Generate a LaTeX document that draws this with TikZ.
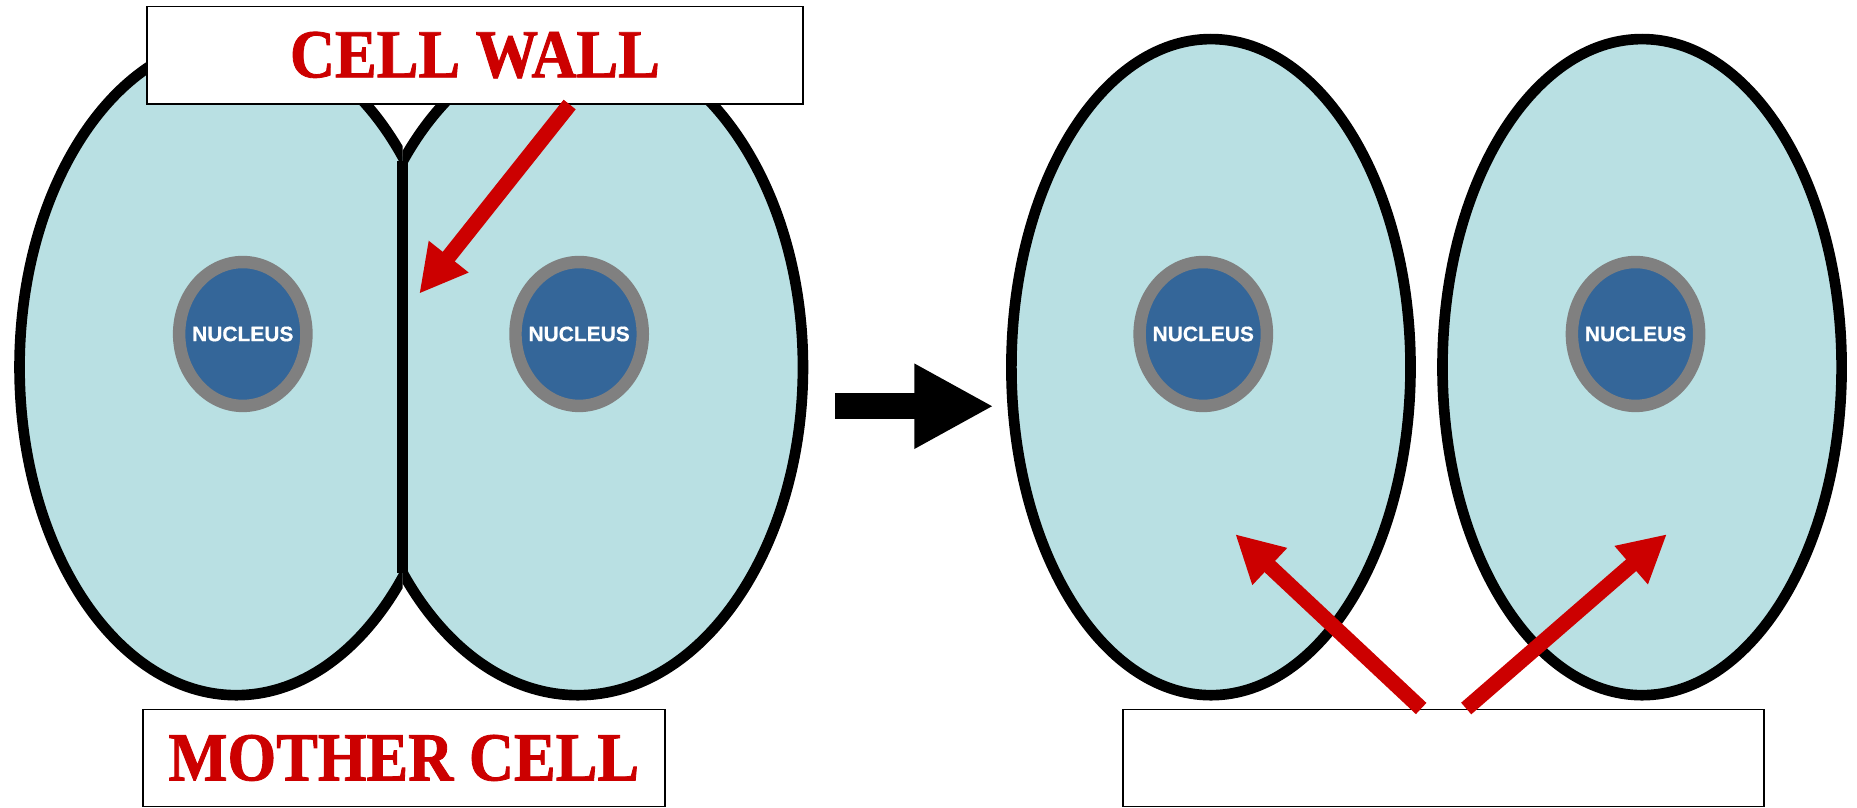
\documentclass[tikz,border=0pt]{standalone}
\usepackage{fontspec}
\usepackage{tikz}
\usetikzlibrary{arrows.meta,shapes.geometric}
\newfontfamily\labelfont[FakeStretch=0.91,FakeBold=1.2]{Liberation Serif Bold}
\newfontfamily\nucfont[FakeBold=0.5]{Liberation Sans Bold}
\definecolor{cellblue}{HTML}{B9E0E3}
\definecolor{nucblue}{HTML}{346699}
\definecolor{nucgray}{HTML}{808080}
\definecolor{labelred}{HTML}{CC0000}
\tikzset{
	cell/.style={draw=black,line width=9pt,fill=cellblue},
	cellline/.style={draw=black,line width=9pt},
	nucleus/.style={ellipse,draw=nucgray,line width=10.5pt,fill=nucblue,minimum width=107.5pt,minimum height=121.5pt,inner sep=0pt},
	nuclabel/.style={text=white,font=\nucfont\fontsize{17.7}{20}\selectfont},
	labelbox/.style={draw=black,line width=1.5pt,fill=white,inner sep=0pt,minimum height=82pt,text=labelred,font=\labelfont\fontsize{58}{60}\selectfont},
	pointer/.style={draw=labelred,line width=13pt,-{Triangle[length=40pt,width=40pt]}},
	bigarrow/.style={draw=black,line width=22.4pt,-{Triangle[length=67pt,width=67pt]}}
}

\begin{document}
\begin{tikzpicture}[x=1pt,y=-1pt]
	    \useasboundingbox (0,0) rectangle (1568,682);
	    \fill[cellblue] (199.5,310) ellipse [x radius=183,y radius=277];
	    \fill[cellblue] (488,310) ellipse [x radius=190,y radius=277];
	    \begin{scope}
	        \clip (0,0) rectangle (340,682);
	        \draw[cellline] (199.5,310) ellipse [x radius=183,y radius=277];
	    \end{scope}
	    \begin{scope}
	        \clip (340,0) rectangle (700,682);
	        \draw[cellline] (488,310) ellipse [x radius=190,y radius=277];
	    \end{scope}
	    \draw[cellline] (340,136) -- (340,484);
	    \draw[cell] (1022.5,310) ellipse [x radius=168.5,y radius=277];
	    \draw[cell] (1386.5,310) ellipse [x radius=168.5,y radius=277];
	    \node[nucleus,label={[nuclabel]center:NUCLEUS}] (nucA) at (205,282) {};
	    \node[nucleus,label={[nuclabel]center:NUCLEUS}] (nucB) at (489,282) {};
	    \node[nucleus,label={[nuclabel]center:NUCLEUS}] (nucC) at (1016,282) {};
	    \node[nucleus,label={[nuclabel]center:NUCLEUS}] (nucD) at (1381,282) {};
	    \node[labelbox,minimum width=554pt] (wallbox) at (401,46.5) {CELL WALL};
	    \node[labelbox,minimum width=441pt] (motherbox) at (341,640) {MOTHER CELL};
	    \node[labelbox,minimum width=541pt] (daughterbox) at (1219,640) {};
	    \coordinate (walltip) at (354,248);
	    \coordinate (lefttip) at (1043,451);
	    \coordinate (righttip) at (1407.5,451);
	    \coordinate (gostart) at (705,343);
	    \coordinate (goend) at (839,343);
	    \draw[pointer] ([xshift=80pt]wallbox.south) -- (walltip);
	    \draw[pointer] ([xshift=-19pt]daughterbox.north) -- (lefttip);
	    \draw[pointer] ([xshift=19pt]daughterbox.north) -- (righttip);
	    \draw[bigarrow] (gostart) -- (goend);
	\end{tikzpicture}
\end{document}
